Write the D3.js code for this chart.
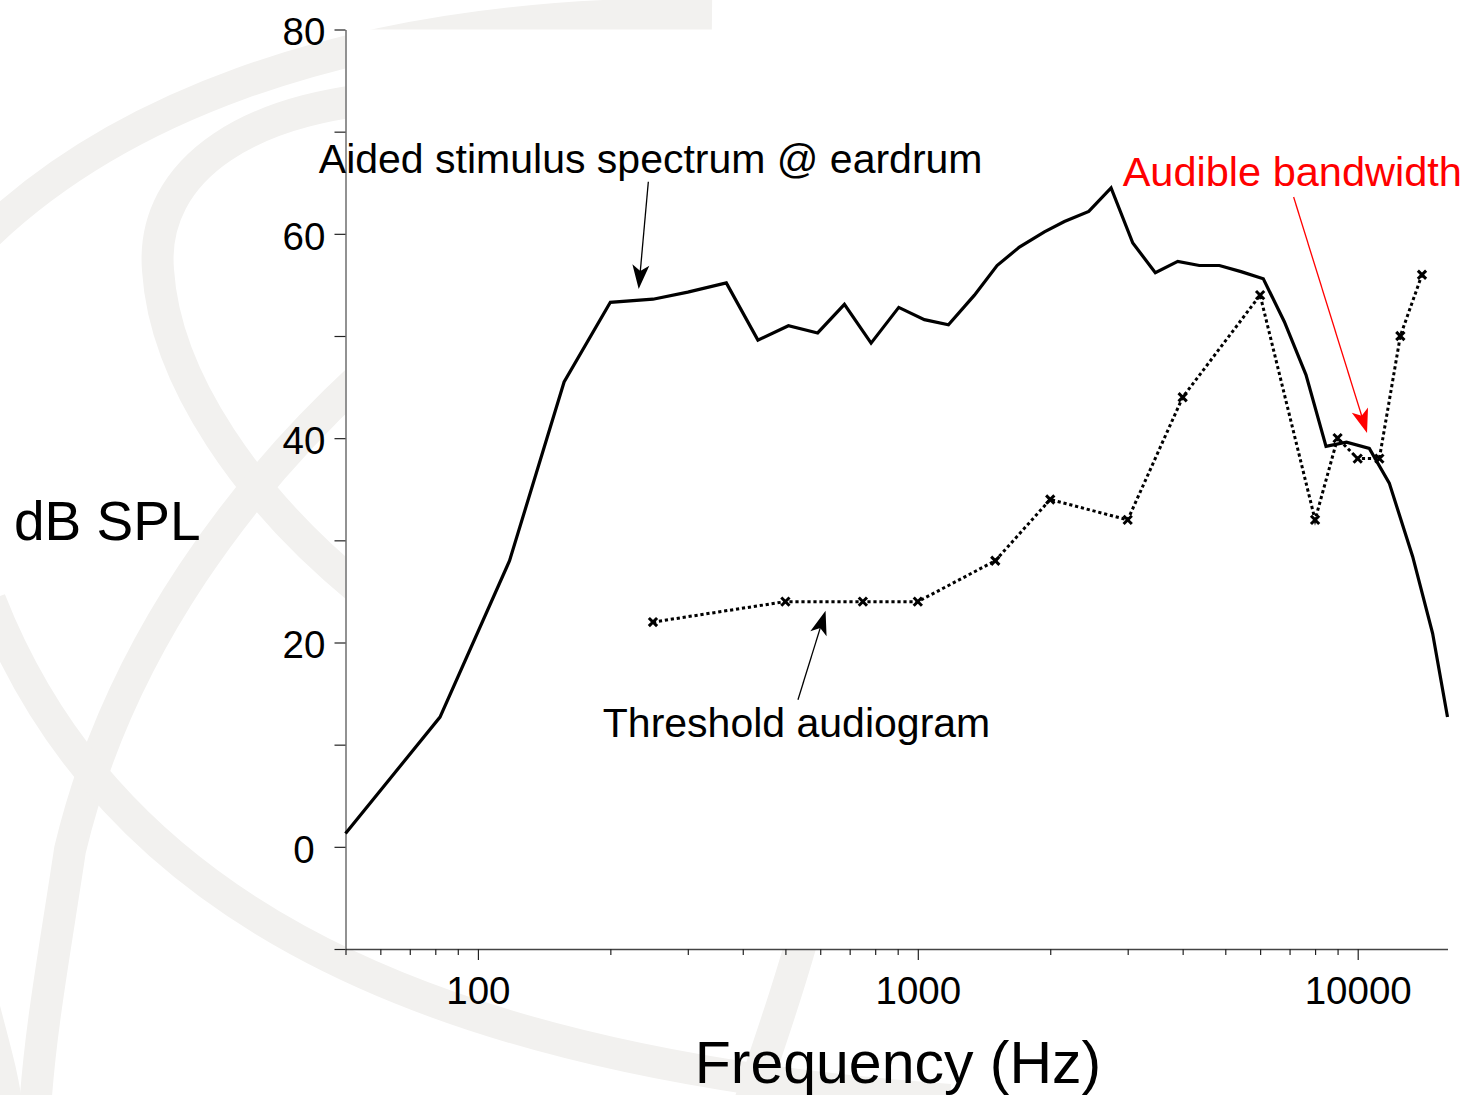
<!DOCTYPE html>
<html>
<head>
<meta charset="utf-8">
<script src="https://cdn.jsdelivr.net/npm/d3@7"></script>
<style>
  body { margin: 0; background: #fff; }
  svg { display: block; }
  text { font-family: "Liberation Sans", Arial, Helvetica, sans-serif; }
</style>
</head>
<body>
<svg id="chart" width="1468" height="1095"></svg>
<script>
// Aided stimulus spectrum at the eardrum: frequency (Hz) and level (dB SPL)
const spectrumFreq = [50, 82, 118, 157, 200, 250, 300, 367, 433, 508, 592, 681, 783, 905, 1035, 1174,
  1345, 1514, 1702, 1940, 2154, 2447, 2750, 3081, 3467, 3899, 4365, 4848, 5429, 6101, 6811, 7628,
  8472, 9430, 10627, 11797, 13336, 14800, 16000];
const spectrumLevel = [1.3, 12.7, 28.0, 45.5, 53.3, 53.6, 54.3, 55.2, 49.6, 51.0, 50.3, 53.1, 49.3, 52.8, 51.6, 51.1,
  54.0, 56.9, 58.7, 60.2, 61.2, 62.2, 64.5, 59.1, 56.2, 57.3, 56.9, 56.9, 56.3, 55.6, 51.4, 46.2,
  39.2, 39.6, 39.0, 35.6, 28.4, 20.9, 12.7];

// Threshold audiogram (extended high-frequency audiometry), dB SPL
const audiogramFreq = [250, 500, 750, 1000, 1500, 2000, 3000, 4000, 6000, 8000, 9000, 10000, 11200, 12500, 14000];
const audiogramLevel = [22, 24, 24, 24, 28, 34, 32, 44, 54, 32, 40, 38, 38, 50, 56];

// Axis ticks
const xLabelTicks = [100, 1000, 10000];
const yTicks = [-10, 0, 10, 20, 30, 40, 50, 60, 70, 80];
const yLabelTicks = [0, 20, 40, 60, 80];

// Annotations: text centre, arrow start and arrow tip in (Hz, dB SPL)
const annotationText = ["Aided stimulus spectrum @ eardrum", "Threshold audiogram", "Audible bandwidth"];
const annotationAt = [[247, 66.0], [530, 10.75], [7100, 64.7]];
const annotationSize = [41, 41, 41.5];
const arrowFrom = [[244, 65.1], [534, 14.4], [7150, 63.6]];
const arrowTo = [[232, 54.6], [617, 23.1], [10500, 40.5]];
const annotationColor = ["#000", "#000", "#ff0000"];

const svg = d3.select("#chart");
const W = 1468, H = 1095;
const plot = { left: 345.5, right: 1447.5, top: 29.5, bottom: 949 };

const x = d3.scaleLog().domain([50, 16000]).range([plot.left, plot.right]);
const y = d3.scaleLinear().domain([-10, 80]).range([plot.bottom, plot.top]);

// Background logo watermark (light grey swirls), covered by the plot area
const mark = svg.append("g").attr("fill", "none").attr("stroke", "#f2f1ef").attr("stroke-width", 32);
[
  "M -40,262 C 90,120 330,10 712,14",
  "M 420,96 C 250,100 150,170 158,270 C 165,380 250,500 360,590",
  "M 360,378 C 250,480 120,640 70,850 C 55,950 40,1030 35,1110",
  "M -10,600 C 100,880 380,1060 950,1100",
  "M 806,925 C 786,1000 766,1050 746,1115",
  "M -18,1000 C -8,1040 2,1070 8,1115"
].forEach(d => mark.append("path").attr("d", d));

// Plot area
svg.append("rect")
  .attr("x", plot.left).attr("y", plot.top)
  .attr("width", W - plot.left).attr("height", plot.bottom - plot.top)
  .attr("fill", "#fff");

// Y axis
const yAxis = svg.append("g")
  .attr("transform", `translate(${plot.left},0)`)
  .call(d3.axisLeft(y).tickValues(yTicks).tickSize(11).tickSizeOuter(0)
    .tickFormat(d => yLabelTicks.includes(d) ? String(d) : ""));
yAxis.select(".domain").attr("stroke", "#777").attr("stroke-width", 1.6);
yAxis.selectAll(".tick line").attr("stroke", "#222").attr("stroke-width", 1.2);
yAxis.selectAll(".tick text")
  .attr("x", -41.5).attr("dy", "0.4em")
  .attr("text-anchor", "middle")
  .attr("font-size", 38.5).attr("fill", "#000")
  .attr("font-family", "'Liberation Sans', Arial, sans-serif");

// X axis: decades labelled, 2..9 minor ticks
const xTicks = [];
for (let dec = 10; dec <= 10000; dec *= 10) {
  for (let m = 1; m <= 9; m++) {
    const v = m * dec;
    if (v >= 50 && v <= 16000) xTicks.push(v);
  }
}
const xAxis = svg.append("g")
  .attr("transform", `translate(0,${plot.bottom})`)
  .call(d3.axisBottom(x).tickValues(xTicks).tickSize(11).tickSizeOuter(0)
    .tickFormat(d => xLabelTicks.includes(d) ? String(d) : ""));
xAxis.select(".domain").attr("stroke", "#444").attr("stroke-width", 1.6);
xAxis.selectAll(".tick line")
  .attr("stroke", "#222").attr("stroke-width", 1.2)
  .attr("y2", d => xLabelTicks.includes(d) ? 11 : 6);
xAxis.selectAll(".tick text")
  .attr("y", 55).attr("dy", null)
  .attr("font-size", 38.5).attr("fill", "#000")
  .attr("font-family", "'Liberation Sans', Arial, sans-serif");

// Axis titles
svg.append("text")
  .attr("x", 14).attr("y", 540)
  .attr("font-size", 55).attr("fill", "#000")
  .text("dB SPL");
svg.append("text")
  .attr("x", (plot.left + plot.right) / 2 + 1.5).attr("y", 1083)
  .attr("text-anchor", "middle")
  .attr("font-size", 59).attr("fill", "#000")
  .text("Frequency (Hz)");

// Threshold audiogram: dotted line with x markers
const audiogram = audiogramFreq.map((f, i) => [f, audiogramLevel[i]]);
svg.append("path")
  .datum(audiogram)
  .attr("fill", "none").attr("stroke", "#000")
  .attr("stroke-width", 3).attr("stroke-dasharray", "3.2,2.8")
  .attr("d", d3.line().x(d => x(d[0])).y(d => y(d[1])));
svg.append("g").selectAll("path")
  .data(audiogram).join("path")
  .attr("transform", d => `translate(${x(d[0])},${y(d[1])})`)
  .attr("d", d3.symbol(d3.symbolX, 46))
  .attr("fill", "none").attr("stroke", "#000").attr("stroke-width", 3);

// Aided spectrum: solid line
const spectrum = spectrumFreq.map((f, i) => [f, spectrumLevel[i]]);
svg.append("path")
  .datum(spectrum)
  .attr("fill", "none").attr("stroke", "#000")
  .attr("stroke-width", 3.2).attr("stroke-linejoin", "miter")
  .attr("d", d3.line().x(d => x(d[0])).y(d => y(d[1])));

// Annotations with arrows
function arrowHead(x1, y1, x2, y2, len, half, notch) {
  const dx = x2 - x1, dy = y2 - y1, n = Math.hypot(dx, dy);
  const ux = dx / n, uy = dy / n, px = -uy, py = ux;
  const bx = x2 - ux * len, by = y2 - uy * len;
  const p = d3.path();
  p.moveTo(x2, y2);
  p.lineTo(bx + px * half, by + py * half);
  p.lineTo(x2 - ux * (len - notch), y2 - uy * (len - notch));
  p.lineTo(bx - px * half, by - py * half);
  p.closePath();
  return p.toString();
}

annotationText.forEach((t, i) => {
  const c = annotationColor[i];
  svg.append("text")
    .attr("x", x(annotationAt[i][0])).attr("y", y(annotationAt[i][1]))
    .attr("text-anchor", "middle")
    .attr("font-size", annotationSize[i]).attr("fill", c)
    .text(t);
  const x1 = x(arrowFrom[i][0]), y1 = y(arrowFrom[i][1]);
  const x2 = x(arrowTo[i][0]), y2 = y(arrowTo[i][1]);
  const dx = x2 - x1, dy = y2 - y1, n = Math.hypot(dx, dy);
  svg.append("line")
    .attr("x1", x1).attr("y1", y1)
    .attr("x2", x2 - dx / n * 16).attr("y2", y2 - dy / n * 16)
    .attr("stroke", c).attr("stroke-width", 1.3);
  svg.append("path")
    .attr("d", arrowHead(x1, y1, x2, y2, 24, 8.5, 6))
    .attr("fill", c);
});
</script>
</body>
</html>
